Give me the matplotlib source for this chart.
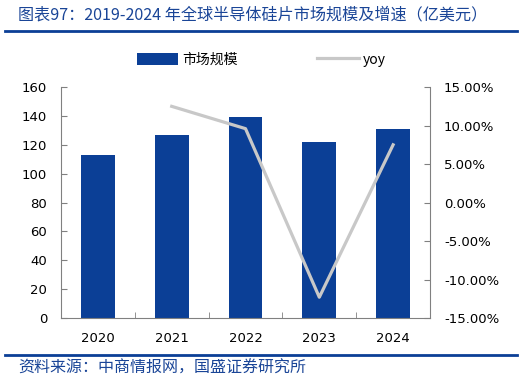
import matplotlib.pyplot as plt
from matplotlib.lines import Line2D
from matplotlib.ticker import FuncFormatter

plt.rcParams['font.family'] = ['Noto Sans CJK SC', 'DejaVu Sans']

years = ["2020", "2021", "2022", "2023", "2024"]
market = [113, 127, 139, 122, 131]
yoy_years = ["2021", "2022", "2023", "2024"]
yoy = [12.5, 9.6, -12.3, 7.5]

blue = "#0B3F96"
text_blue = "#1A4597"
gray = "#C8C8C8"

fig = plt.figure(figsize=(5.26, 3.82), dpi=100)
ax = fig.add_axes([0.116, 0.1675, 0.7015, 0.6045])

x = list(range(len(years)))
ax.bar(x, market, width=0.46, color=blue, label="市场规模", zorder=2)
ax.set_xlim(-0.5, len(years) - 0.5)
ax.set_ylim(0, 160)
ax.set_yticks(range(0, 161, 20))
ax.set_xticks(x)
ax.set_xticklabels(years)
ax.set_xticks([i + 0.5 for i in x[:-1]], minor=True)
ax.tick_params(axis='x', which='major', length=0, pad=10, labelsize=9.5)
ax.tick_params(axis='x', which='minor', direction='in', length=4, color='#808080')
ax.tick_params(axis='y', direction='in', length=4, color='#808080', pad=10, labelsize=9.5)
for lab in ax.get_xticklabels() + ax.get_yticklabels():
    lab.set_family('DejaVu Sans')

ax2 = ax.twinx()
xi = [years.index(y) for y in yoy_years]
ax2.plot(xi, yoy, color=gray, linewidth=2.3, label="yoy", zorder=3)
ax2.set_ylim(-15, 15)
ax2.set_yticks(range(-15, 16, 5))
ax2.yaxis.set_major_formatter(FuncFormatter(lambda v, p: f"{v:.2f}%"))
ax2.tick_params(axis='y', direction='in', length=4, color='#808080', pad=10, labelsize=9.5)
for lab in ax2.get_yticklabels():
    lab.set_family('DejaVu Sans')

for a in (ax, ax2):
    a.spines['top'].set_visible(False)
    for s in ('left', 'right', 'bottom'):
        a.spines[s].set_color('#808080')
        a.spines[s].set_linewidth(0.8)
ax.spines['right'].set_visible(False)
ax2.spines['left'].set_visible(False)
ax2.spines['bottom'].set_visible(False)

h1, l1 = ax.get_legend_handles_labels()
h2, l2 = ax2.get_legend_handles_labels()
fig.legend(h1 + h2, l1 + l2, loc='center', bbox_to_anchor=(0.497, 0.843), ncol=2,
           frameon=False, fontsize=10, handlelength=3.0, handleheight=1.0,
           columnspacing=5.7, handletextpad=0.3)

fig.text(0.034, 0.962, "图表97：2019-2024 年全球半导体硅片市场规模及增速（亿美元）",
         color=text_blue, fontsize=11.6, fontstyle='italic', va='center', ha='left')
fig.add_artist(Line2D([0.01, 0.983], [0.919, 0.919], color=blue, linewidth=2))
fig.add_artist(Line2D([0.01, 0.983], [0.071, 0.071], color=blue, linewidth=2))
fig.text(0.034, 0.035, "资料来源：中商情报网，国盛证券研究所",
         color=text_blue, fontsize=11.5, fontstyle='italic', va='center', ha='left')

fig.savefig("out.png", dpi=100)
